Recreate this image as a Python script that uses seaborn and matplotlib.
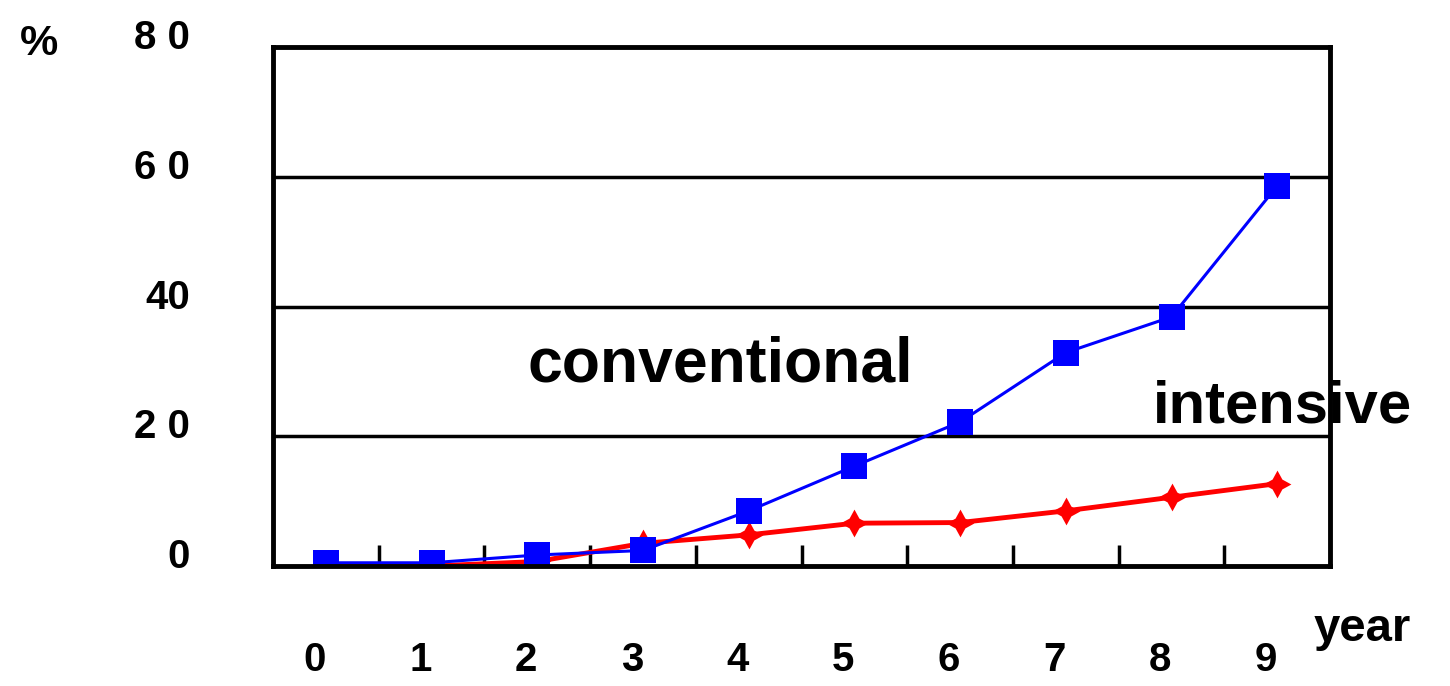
import pandas as pd
import matplotlib
matplotlib.use("Agg")
import matplotlib.pyplot as plt
import matplotlib.transforms as mtransforms
import seaborn as sns

# values (% per year)
years = [0, 1, 2, 3, 4, 5, 6, 7, 8, 9]
conventional = [0.5, 0.5, 1.7, 2.4, 8.5, 15.4, 22.2, 32.9, 38.4, 58.6]
intensive = [0.0, 0.0, 0.7, 3.5, 4.8, 6.6, 6.7, 8.5, 10.6, 12.7]
y_ticks = [0, 20, 40, 60, 80]
y_tick_labels = ["0", "2 0", "40", "6 0", "8 0"]

sns.set_theme(style="white")
plt.rcParams["font.family"] = ["Liberation Sans", "DejaVu Sans"]
plt.rcParams["text.color"] = "black"
plt.rcParams["xtick.color"] = "black"
plt.rcParams["ytick.color"] = "black"

df = pd.DataFrame({"year": years, "conventional": conventional, "intensive": intensive})

fig = plt.figure(figsize=(14.5, 6.86), dpi=100)
ax = fig.add_axes([0.1883, 0.1749, 0.7290, 0.7566])

# red series underneath, blue on top
sns.lineplot(data=df, x="year", y="intensive", ax=ax, color="#ff0000",
             linewidth=3.5, marker=(4, 1, 0), markersize=20,
             markeredgewidth=0, zorder=3)
sns.lineplot(data=df, x="year", y="conventional", ax=ax, color="#0000ff",
             linewidth=2.2, marker="s", markersize=19,
             markeredgewidth=0, zorder=4)

ax.set_xlim(-0.5, 9.5)
ax.set_ylim(0, 80)

# horizontal grid lines at 20 / 40 / 60
for g in [20, 40, 60]:
    ax.axhline(g, color="black", linewidth=2.5, zorder=1)

for s in ax.spines.values():
    s.set_color("black")
    s.set_linewidth(3.5)
    s.set_zorder(6)

# short inside ticks between categories at the bottom
ax.set_xticks([x + 0.5 for x in years[:-1]], minor=True)
ax.tick_params(axis="x", which="minor", direction="in", length=15, width=2.5,
               color="black", bottom=True)
ax.set_xticks(years)
ax.set_xticklabels([str(y) for y in years])
ax.tick_params(axis="x", which="major", length=0, pad=54, labelsize=29)
for lbl in ax.get_xticklabels():
    lbl.set_fontweight("bold")
    lbl.set_horizontalalignment("right")

ax.set_yticks(y_ticks)
ax.set_yticklabels(y_tick_labels)
ax.tick_params(axis="y", length=0, pad=60, labelsize=29)
lift = mtransforms.ScaledTranslation(0, 9 / 100, fig.dpi_scale_trans)
for lbl in ax.get_yticklabels():
    lbl.set_fontweight("bold")
    lbl.set_verticalalignment("center")
    lbl.set_transform(lbl.get_transform() + lift)

ax.set_xlabel("")
ax.set_ylabel("")

fig.text(0.014, 0.92, "%", fontsize=31, fontweight="bold")
fig.text(0.906, 0.065, "year", fontsize=34, fontweight="bold")

ax.text(3.73, 31, "conventional", fontsize=45, fontweight="bold",
        ha="center", va="center", zorder=2)
ax.text(9.05, 24.5, "intensive", fontsize=43, fontweight="bold",
        ha="center", va="center", zorder=2, clip_on=False)

fig.savefig("out.png", dpi=100)
